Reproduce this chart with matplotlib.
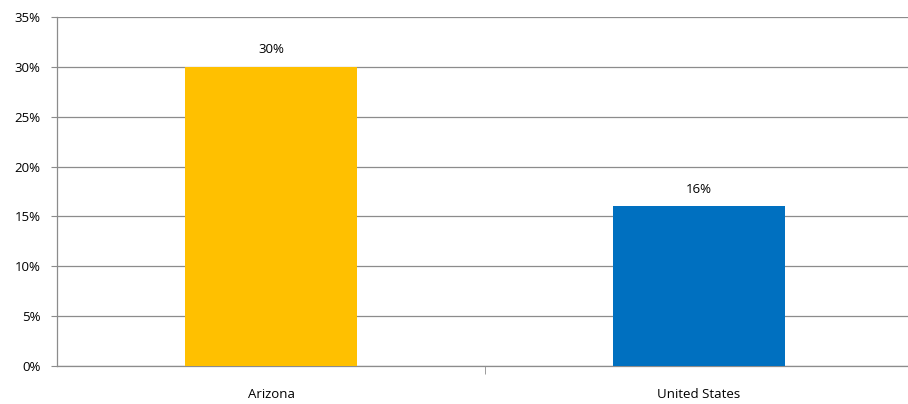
import matplotlib.pyplot as plt
from matplotlib.ticker import FuncFormatter

# data
categories = ['Arizona', 'United States']
values = [30, 16]
bar_colors = ['#FFC000', '#0070C0']
y_ticks = [0, 5, 10, 15, 20, 25, 30, 35]

plt.rcParams['font.family'] = ['Open Sans', 'DejaVu Sans']

fig = plt.figure(figsize=(9.08, 4.04), dpi=100)
ax = fig.add_axes([57 / 908, 38 / 404, 856 / 908, 349 / 404])

x = range(len(categories))
bars = ax.bar(x, values, width=0.4, color=bar_colors, zorder=3)

# data labels
for b, v in zip(bars, values):
    ax.annotate(f'{v}%', (b.get_x() + b.get_width() / 2, v),
                xytext=(0, 12.5), textcoords='offset points',
                ha='center', va='center', fontsize=9.5, color='#000000')

ax.set_xlim(-0.5, 1.5)
ax.set_ylim(0, 35)
ax.set_yticks(y_ticks)
ax.yaxis.set_major_formatter(FuncFormatter(lambda v, p: f'{v:.0f}%'))
ax.grid(axis='y', color='#8c8c8c', linewidth=0.9, zorder=0)

ax.set_xticks(list(x))
ax.set_xticklabels(categories)
ax.set_xticks([0.5], minor=True)
ax.tick_params(axis='x', which='major', length=0, pad=16, labelsize=9.5)
ax.tick_params(axis='x', which='minor', length=6, color='#8c8c8c', direction='out')
ax.tick_params(axis='y', length=4, color='#8c8c8c', pad=8, labelsize=9.5)

for s in ['top', 'right']:
    ax.spines[s].set_visible(False)
for s in ['left', 'bottom']:
    ax.spines[s].set_color('#8c8c8c')
    ax.spines[s].set_linewidth(0.9)

fig.savefig('out.png', dpi=100)
